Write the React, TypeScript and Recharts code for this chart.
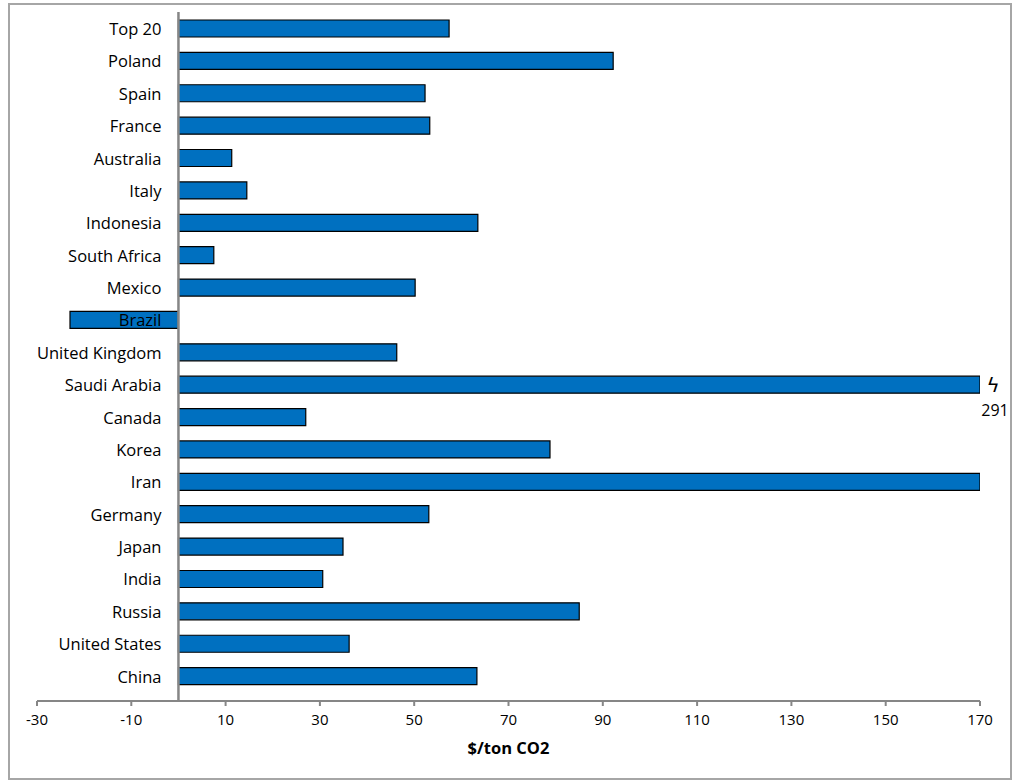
import { BarChart, Bar, XAxis, YAxis, ReferenceLine, LabelList, Label } from 'recharts'

// countries top to bottom
const countries = [
  'Top 20', 'Poland', 'Spain', 'France', 'Australia', 'Italy', 'Indonesia',
  'South Africa', 'Mexico', 'Brazil', 'United Kingdom', 'Saudi Arabia', 'Canada',
  'Korea', 'Iran', 'Germany', 'Japan', 'India', 'Russia', 'United States', 'China',
]
// $/ton CO2
const costs = [
  57.4, 92.2, 52.3, 53.3, 11.3, 14.5, 63.5,
  7.5, 50.2, -23, 46.3, 291, 27,
  78.8, 170, 53.1, 34.9, 30.6, 85, 36.2, 63.3,
]
const xTicks = [-30, -10, 10, 30, 50, 70, 90, 110, 130, 150, 170]

const X_MIN = -30
const X_MAX = 170

const data = countries.map((name, i) => ({
  name,
  value: costs[i],
  shown: Math.min(costs[i], X_MAX),
}))

const font = '"Open Sans", "Noto Sans", sans-serif'

function CountryLabel(props: any) {
  const { x, y, height, index } = props
  return (
    <text x={x - 17} y={y + height / 2} textAnchor="end" dominantBaseline="central"
      fontSize={16.5} fontFamily={font} fill="#000">
      {data[index].name}
    </text>
  )
}

function BreakLabel(props: any) {
  const { x, y, width, height, index } = props
  const d = data[index]
  if (d.value <= X_MAX) return null
  const right = x + width
  return (
    <g fontFamily={font} fill="#000">
      <text x={right + 13} y={y + height / 2} textAnchor="middle" dominantBaseline="central"
        fontSize={20} fontFamily='"DejaVu Sans", sans-serif'>ϟ</text>
      <text x={right + 15} y={y + height / 2 + 25} textAnchor="middle" dominantBaseline="central" fontSize={16}>
        {d.value}
      </text>
    </g>
  )
}

export default function App() {
  return (
    <div style={{ position: 'absolute', left: 0, top: 0, width: 1020, height: 781, background: '#fff' }}>
      <div style={{ position: 'absolute', left: 8, top: 3, width: 1000, height: 773, border: '2px solid #a6a6a6' }} />
      <div style={{ position: 'absolute', left: 0, top: 0 }}>
        <BarChart width={1020} height={781} data={data} layout="vertical"
          margin={{ top: 12, right: 40, bottom: 0, left: 37 }} barSize={17}>
          <XAxis type="number" domain={[X_MIN, X_MAX]} ticks={xTicks} allowDataOverflow
            height={80} tickSize={5} tickMargin={8}
            axisLine={{ stroke: '#868686', strokeWidth: 2 }} tickLine={{ stroke: '#868686', strokeWidth: 2 }}
            tick={{ fill: '#000', fontSize: 15, fontFamily: font }}>
            <Label value="$/ton CO2" position="insideBottom" offset={27}
              style={{ fontWeight: 700, fontSize: 16.5, fontFamily: font, fill: '#000' }} />
          </XAxis>
          <YAxis type="category" dataKey="name" hide padding={{ top: 0, bottom: 9 }} />
          <Bar dataKey="shown" fill="#0070C0" stroke="#000" strokeWidth={1.2} isAnimationActive={false}>
            <LabelList dataKey="name" content={<CountryLabel />} />
            <LabelList dataKey="value" content={<BreakLabel />} />
          </Bar>
          <ReferenceLine x={0} stroke="#868686" strokeWidth={2.5} />
        </BarChart>
      </div>
    </div>
  )
}
